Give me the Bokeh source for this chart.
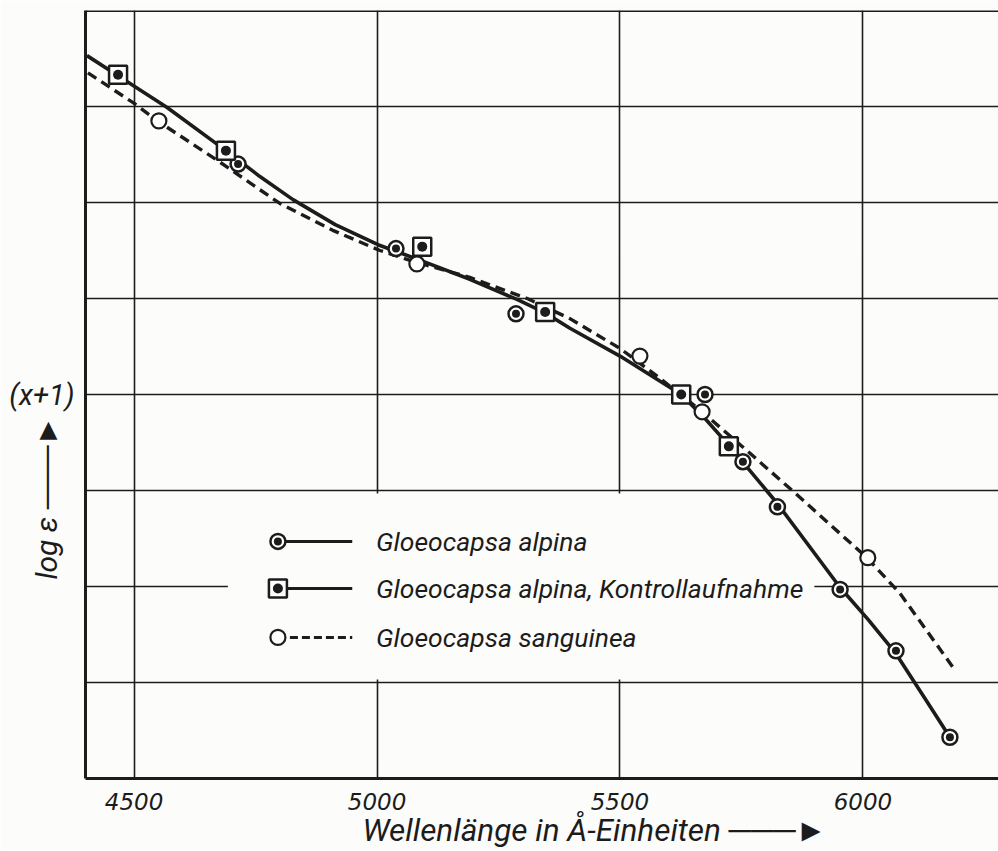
from bokeh.plotting import figure
from bokeh.models import Range1d, FixedTicker, Span, Label, Title
from bokeh.embed import file_html
from bokeh.resources import INLINE

# ---- data ----
alpina_x = [4714, 5039, 5286, 5675, 5753, 5824, 5953, 6068, 6179]
alpina_y = [6.40, 5.52, 4.84, 4.00, 3.30, 2.83, 1.97, 1.33, 0.43]

kontroll_x = [4467, 4689, 5093, 5346, 5626, 5724]
kontroll_y = [7.33, 6.54, 5.54, 4.86, 4.00, 3.46]

sanguinea_x = [4551, 5082, 5541, 5669, 6010]
sanguinea_y = [6.85, 5.36, 4.40, 3.82, 2.30]

# hand-drawn curves
alpina_curve_x = [4403, 4467, 4568, 4689, 4759, 4827, 4914, 5002, 5088, 5191,
                  5288, 5346, 5397, 5500, 5626, 5675, 5724, 5823, 5953, 6010,
                  6068, 6128, 6179]
alpina_curve_y = [7.53, 7.32, 6.99, 6.54, 6.27, 6.03, 5.77, 5.56, 5.40, 5.20,
                  4.99, 4.85, 4.69, 4.40, 4.00, 3.75, 3.47, 2.87, 1.99, 1.66,
                  1.30, 0.83, 0.43]

sanguinea_curve_x = [4405, 4498, 4551, 4671, 4800, 4909, 5006, 5082, 5191, 5309,
                     5397, 5500, 5582, 5669, 5767, 5870, 6008, 6076, 6185]
sanguinea_curve_y = [7.35, 7.04, 6.84, 6.44, 5.99, 5.71, 5.50, 5.375, 5.22, 5.00,
                     4.79, 4.48, 4.17, 3.82, 3.39, 2.93, 2.30, 1.93, 1.16]

x_ticks = [4500, 5000, 5500, 6000]
y_grid = [0, 1, 2, 3, 4, 5, 6, 7, 8]

legend_labels = ["Gloeocapsa  alpina",
                 "Gloeocapsa alpina, Kontrollaufnahme",
                 "Gloeocapsa  sanguinea"]
x_title = "Wellenlänge in Å-Einheiten \u2500\u2500\u2500\u25BA"
y_title = "log ε \u2500\u2500\u2500\u25BA"
y_mark = "(x+1)"

INK = "#1c1c1c"
PAPER = "#fcfcfb"
FONT = "Roboto"
NBSP = "\u00a0"

p = figure(width=998, height=850,
           x_range=Range1d(4400, 6279), y_range=Range1d(0, 8),
           output_backend="svg", toolbar_location=None,
           min_border_left=85, min_border_right=0,
           min_border_top=10, min_border_bottom=72)
p.background_fill_color = PAPER
p.border_fill_color = PAPER
p.outline_line_color = None

# x axis
p.xaxis.ticker = FixedTicker(ticks=x_ticks)
p.xaxis.axis_line_width = 3
p.xaxis.axis_line_color = INK
p.xaxis.major_tick_line_color = None
p.xaxis.minor_tick_line_color = None
p.xaxis.major_label_text_font = "DejaVu Sans"
p.xaxis.major_label_text_font_style = "italic"
p.xaxis.major_label_text_font_size = "23px"
p.xaxis.major_label_text_color = INK
p.xaxis.major_label_standoff = 8

# y axis: only the "(x+1)" mark, rotated "log ε" as its title
p.yaxis.ticker = FixedTicker(ticks=[4])
p.yaxis.major_label_overrides = {4: y_mark}
p.yaxis.axis_line_width = 3
p.yaxis.axis_line_color = INK
p.yaxis.major_tick_line_color = None
p.yaxis.minor_tick_line_color = None
p.yaxis.major_label_text_font = FONT
p.yaxis.major_label_text_font_style = "italic"
p.yaxis.major_label_text_font_size = "29px"
p.yaxis.major_label_text_color = INK
p.yaxis.major_label_standoff = 5
p.yaxis.axis_label = y_title + NBSP * 28
p.yaxis.axis_label_text_font = FONT
p.yaxis.axis_label_text_font_style = "italic"
p.yaxis.axis_label_text_font_size = "30px"
p.yaxis.axis_label_text_color = INK
p.yaxis.axis_label_standoff = -58

p.xgrid.ticker = FixedTicker(ticks=x_ticks)
p.ygrid.ticker = FixedTicker(ticks=y_grid)
for g in (p.xgrid, p.ygrid):
    g.grid_line_color = INK
    g.grid_line_width = 1.6
    g.grid_line_alpha = 1.0

p.add_layout(Span(location=8, dimension="width", line_color=INK, line_width=3))

# x title below the axis
p.add_layout(Title(text=x_title, align="left", offset=277, standoff=-6,
                   text_font=FONT, text_font_style="italic",
                   text_font_size="31.5px", text_color=INK), "below")

# legend box (white patch covering the grid)
LEG_L, LEG_R, LEG_B, LEG_T = 4693, 5900, 1.03, 2.97
p.quad(left=[LEG_L], right=[LEG_R], bottom=[LEG_B], top=[LEG_T],
       fill_color=PAPER, line_color=None)

# curves
p.line(alpina_curve_x, alpina_curve_y, line_color=INK, line_width=3.6,
       line_join="round")
p.line(sanguinea_curve_x, sanguinea_curve_y, line_color=INK, line_width=3.4,
       line_dash="10 6")

# markers
p.scatter(alpina_x, alpina_y, marker="circle", size=15, fill_color="white",
          line_color=INK, line_width=2.5)
p.scatter(alpina_x, alpina_y, marker="circle", size=8, fill_color=INK, line_color=None)

p.scatter(kontroll_x, kontroll_y, marker="square", size=18, fill_color="white",
          line_color=INK, line_width=2.5)
p.scatter(kontroll_x, kontroll_y, marker="circle", size=10, fill_color=INK, line_color=None)

p.scatter(sanguinea_x, sanguinea_y, marker="circle", size=15, fill_color="white",
          line_color=INK, line_width=2.2)

# manual legend
LEG_MX, LEG_LX, LEG_TX = 4796, 4949, 4998
leg_rows = [2.47, 1.98, 1.47]
p.line([LEG_MX, LEG_LX], [leg_rows[0]] * 2, line_color=INK, line_width=3)
p.line([LEG_MX, LEG_LX], [leg_rows[1]] * 2, line_color=INK, line_width=3)
p.line([LEG_MX, LEG_LX], [leg_rows[2]] * 2, line_color=INK, line_width=3, line_dash="8 4")
p.scatter([LEG_MX], [leg_rows[0]], marker="circle", size=15, fill_color="white",
          line_color=INK, line_width=2.5)
p.scatter([LEG_MX], [leg_rows[0]], marker="circle", size=8, fill_color=INK, line_color=None)
p.scatter([LEG_MX], [leg_rows[1]], marker="square", size=18, fill_color="white",
          line_color=INK, line_width=2.5)
p.scatter([LEG_MX], [leg_rows[1]], marker="circle", size=10, fill_color=INK, line_color=None)
p.scatter([LEG_MX], [leg_rows[2]], marker="circle", size=15, fill_color="white",
          line_color=INK, line_width=2.2)
for lab, yy in zip(legend_labels, leg_rows):
    p.add_layout(Label(x=LEG_TX, y=yy, text=lab, text_font=FONT,
                       text_font_style="italic", text_font_size="26.5px",
                       text_color=INK, text_baseline="middle", text_align="left"))

open("out.html", "w").write(file_html(p, INLINE))
